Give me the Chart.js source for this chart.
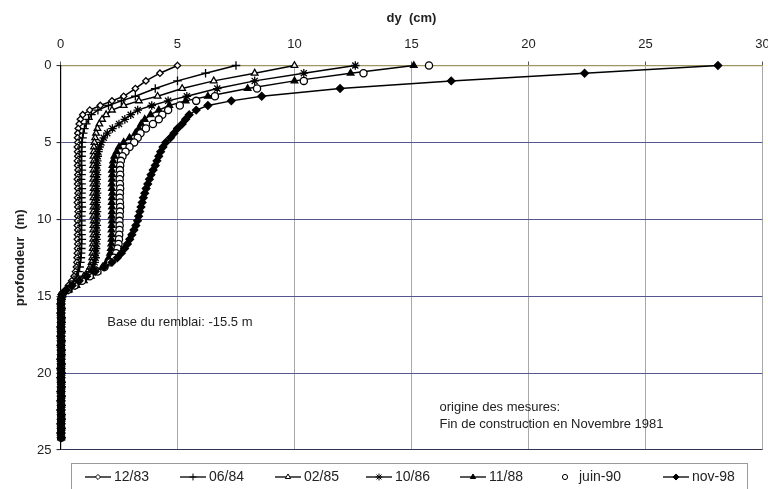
<!DOCTYPE html>
<html><head><meta charset="utf-8">
<script src="https://cdn.jsdelivr.net/npm/chart.js@4"></script>
<style>html,body{margin:0;padding:0;background:#fff}canvas{display:block}</style>
</head><body>
<canvas id="c" width="768" height="489"></canvas>
<script>
// ---- data (depth in m, displacement dy in cm) ----
const seriesLabels = ['12/83', '06/84', '02/85', '10/86', '11/88', 'juin-90', 'nov-98'];
const xTicks = [0, 5, 10, 15, 20, 25, 30];
const yTicks = [0, 5, 10, 15, 20, 25];

const upperDepths = [0,0.5,1,1.5,2,2.3,2.6,2.9, 3.2,3.5,3.8,4.1,4.4,4.7,5,5.3,
  5.6,5.9,6.2,6.5,6.8,7.1,7.4,7.7, 8,8.3,8.6,8.9,9.2,9.5,9.8,10.1,
  10.4,10.7,11,11.3,11.6,11.9,12.2,12.5, 12.8,13.1,13.4,13.7,14,14.3,14.6,14.9];
const deepDepths = [15.2,15.5,15.8,16.1,16.4,16.7,17,17.3,17.6,17.9,18.2,18.5,18.8,19.1,19.4,19.7,
  20,20.3,20.6,20.9,21.2,21.5,21.8,22.1,22.4,22.7,23,23.3,23.6,23.9,24.2];
const deepValues = [0.03,0.02,0.03,0.02,0.03,0.03,0.02,0.03,0.02,0.03,0.02,0.03,0.03,0.02,0.03,0.02,
  0.03,0.02,0.03,0.03,0.02,0.03,0.02,0.03,0.02,0.03,0.03,0.02,0.03,0.02,0.03];

const v1283 = [5.0,4.25,3.65,3.2,2.7,2.2,1.7,1.25, 0.95,0.85,0.8,0.76,0.74,0.73,0.74,0.72,
  0.73,0.74,0.72,0.73,0.75,0.74,0.72,0.73, 0.74,0.75,0.73,0.72,0.74,0.75,0.74,0.73,
  0.72,0.74,0.73,0.72,0.74,0.73,0.72,0.71, 0.7,0.68,0.64,0.58,0.48,0.34,0.2,0.05];
const v0684 = [7.5,6.2,5.0,4.05,3.2,2.6,2.05,1.6, 1.32,1.2,1.1,1.02,0.97,0.94,0.92,0.9,
  0.91,0.9,0.89,0.9,0.91,0.9,0.88,0.9, 0.91,0.9,0.89,0.9,0.91,0.9,0.89,0.9,
  0.9,0.89,0.9,0.91,0.9,0.89,0.88,0.87, 0.85,0.82,0.77,0.7,0.58,0.42,0.24,0.06];
const v0285 = [10.0,8.3,6.55,5.2,4.15,3.35,2.7,2.2, 1.95,1.78,1.66,1.58,1.52,1.48,1.45,1.43,
  1.42,1.41,1.42,1.4,1.41,1.42,1.4,1.41, 1.42,1.4,1.41,1.42,1.41,1.4,1.41,1.42,
  1.41,1.4,1.41,1.4,1.39,1.38,1.37,1.36, 1.33,1.27,1.16,1.0,0.8,0.56,0.3,0.07];
const v1086 = [12.6,10.4,8.3,6.7,5.4,4.6,3.9,3.3, 3.0,2.75,2.5,2.22,2.0,1.85,1.75,1.67,
  1.62,1.59,1.57,1.56,1.55,1.56,1.55,1.54, 1.55,1.56,1.55,1.54,1.55,1.56,1.55,1.54,
  1.55,1.54,1.55,1.54,1.53,1.52,1.51,1.5, 1.46,1.39,1.27,1.1,0.88,0.62,0.34,0.08];
const v1188 = [15.1,12.4,10.0,8.0,6.3,5.35,4.65,4.2, 3.85,3.6,3.45,3.35,3.2,2.95,2.7,2.5,
  2.4,2.3,2.25,2.22,2.2,2.21,2.2,2.19, 2.2,2.21,2.2,2.19,2.2,2.2,2.19,2.2,
  2.19,2.18,2.19,2.18,2.17,2.15,2.12,2.06, 1.96,1.8,1.58,1.3,1.0,0.68,0.36,0.08];
const vJuin90 = [15.75,12.95,10.4,8.4,6.6,5.8,5.1,4.6, 4.35,4.2,3.95,3.65,3.42,3.3,3.15,2.95,
  2.78,2.65,2.58,2.55,2.54,2.55,2.53,2.54, 2.55,2.54,2.53,2.54,2.55,2.54,2.53,2.52,
  2.53,2.52,2.51,2.5,2.48,2.44,2.38,2.28, 2.12,1.88,1.58,1.25,0.92,0.6,0.3,0.07];
const vNov98 = [28.1,22.4,16.7,11.95,8.6,7.3,6.3,5.8, 5.5,5.35,5.2,5.0,4.85,4.7,4.5,4.38,
  4.28,4.2,4.12,4.05,3.96,3.87,3.8,3.73, 3.66,3.6,3.54,3.49,3.44,3.39,3.34,3.29,
  3.22,3.14,3.05,2.96,2.86,2.74,2.6,2.43, 2.2,1.86,1.48,1.12,0.8,0.5,0.25,0.06];

const seriesValues = [v1283, v0684, v0285, v1086, v1188, vJuin90, vNov98];

// ---- styles ----
const FONT = "'Liberation Sans', Arial, Helvetica, sans-serif";
const NARROW = "'Liberation Sans Narrow', 'Liberation Sans', Arial, sans-serif";
const markerStyles = [
  {pointStyle:'rectRot', radius:3.2, fill:'#fff', line:true},
  {pointStyle:'cross', radius:4.3, fill:'#000', line:true},
  {pointStyle:'triangle', radius:3.8, fill:'#fff', line:true},
  {pointStyle:'star', radius:4.3, fill:'#000', line:true},
  {pointStyle:'triangle', radius:3.8, fill:'#000', line:true},
  {pointStyle:'circle', radius:3.6, fill:'#fff', line:false},
  {pointStyle:'rectRot', radius:3.8, fill:'#000', line:true}
];
const legendStartX = [85, 180, 275, 366, 460, 552, 663];
const annotations = [
  {text:'Base du remblai: -15.5 m', x:2.0, y:16.7},
  {text:'origine des mesures:', x:16.2, y:22.2},
  {text:'Fin de construction en Novembre 1981', x:16.2, y:23.35}
];

function toPoints(vals) {
  return upperDepths.map((d, i) => ({x: vals[i], y: d}))
    .concat(deepDepths.map((d, i) => ({x: deepValues[i], y: d})));
}

const datasets = seriesLabels.map((lab, i) => {
  const m = markerStyles[i];
  return {
    label: lab,
    data: toPoints(seriesValues[i]),
    showLine: m.line,
    borderColor: '#000',
    borderWidth: 1.5,
    pointStyle: m.pointStyle,
    pointRadius: m.radius,
    pointBackgroundColor: m.fill,
    pointBorderColor: '#000',
    pointBorderWidth: 1.3,
    tension: 0,
    clip: false,
    order: seriesLabels.length - i
  };
});

const overlayPlugin = {
  id: 'overlay',
  afterDraw(chart) {
    const ctx = chart.ctx;
    const xs = chart.scales.x, ys = chart.scales.y;
    ctx.save();
    // annotations
    ctx.fillStyle = '#222';
    ctx.font = '13px ' + FONT;
    ctx.textBaseline = 'middle';
    ctx.textAlign = 'left';
    annotations.forEach(a => {
      ctx.fillText(a.text, xs.getPixelForValue(a.x), ys.getPixelForValue(a.y));
    });
    // legend box
    ctx.strokeStyle = '#9a9a9a';
    ctx.lineWidth = 1;
    ctx.strokeRect(71.5, 463.5, 676, 40);
    const ly = 477;
    chart.data.datasets.forEach((ds, i) => {
      const x0 = legendStartX[i];
      ctx.strokeStyle = '#111';
      ctx.lineWidth = 1.4;
      let textX;
      if (ds.showLine !== false) {
        ctx.beginPath(); ctx.moveTo(x0, ly); ctx.lineTo(x0 + 26, ly); ctx.stroke();
        ctx.fillStyle = ds.pointBackgroundColor; ctx.strokeStyle = '#000'; ctx.lineWidth = 1;
        Chart.helpers.drawPoint(ctx, {pointStyle: ds.pointStyle, radius: ds.pointRadius * 0.8, borderWidth: 1}, x0 + 13, ly);
        textX = x0 + 29;
      } else {
        ctx.fillStyle = ds.pointBackgroundColor; ctx.strokeStyle = '#000'; ctx.lineWidth = 1;
        Chart.helpers.drawPoint(ctx, {pointStyle: ds.pointStyle, radius: 2.6, borderWidth: 1}, x0 + 13, ly);
        textX = x0 + 27;
      }
      ctx.fillStyle = '#222';
      ctx.font = '14px ' + NARROW;
      ctx.textBaseline = 'middle';
      ctx.fillText(ds.label, textX, ly);
    });
    ctx.restore();
  }
};

new Chart(document.getElementById('c'), {
  type: 'scatter',
  data: {datasets},
  options: {
    responsive: false,
    animation: false,
    devicePixelRatio: 1,
    layout: {padding: {top: 0, left: 0, right: 1.6, bottom: 39}},
    plugins: {legend: {display: false}, tooltip: {enabled: false}},
    scales: {
      x: {
        type: 'linear', position: 'top', min: 0, max: 30,
        afterBuildTicks: s => { s.ticks = xTicks.map(v => ({value: v})); },
        afterFit: s => { s.height = 65.5; s.paddingLeft = 0; s.paddingRight = 0; },
        ticks: {font: {family: NARROW, size: 13}, color: '#222', padding: 9},
        grid: {color: c => c.tick && c.tick.value === 0 ? '#000' : '#a8a8a8', lineWidth: 1, tickLength: 4, tickColor: '#555'},
        border: {display: true, color: '#a39560', width: 1.3},
        title: {display: true, text: 'dy  (cm)', font: {family: FONT, size: 13, weight: 'bold'}, color: '#222', padding: {top: 11, bottom: 0}}
      },
      y: {
        type: 'linear', reverse: true, min: 0, max: 25,
        afterBuildTicks: s => { s.ticks = yTicks.map(v => ({value: v})); },
        afterFit: s => { s.width = 60.5; s.paddingTop = 0; s.paddingBottom = 0; },
        ticks: {font: {family: NARROW, size: 13}, color: '#222', padding: 5},
        grid: {color: c => {
          const v = c.tick && c.tick.value;
          if (v === 0) return '#a39560';
          if (v === 25) return '#333355';
          return '#55558f';
        }, lineWidth: 1.1, tickLength: 4, tickColor: '#333'},
        border: {display: true, color: '#000', width: 1.2},
        title: {display: true, text: 'profondeur  (m)', font: {family: FONT, size: 13, weight: 'bold'}, color: '#222', padding: {top: 13, bottom: 0}}
      }
    }
  },
  plugins: [overlayPlugin]
});
</script>
</body></html>
